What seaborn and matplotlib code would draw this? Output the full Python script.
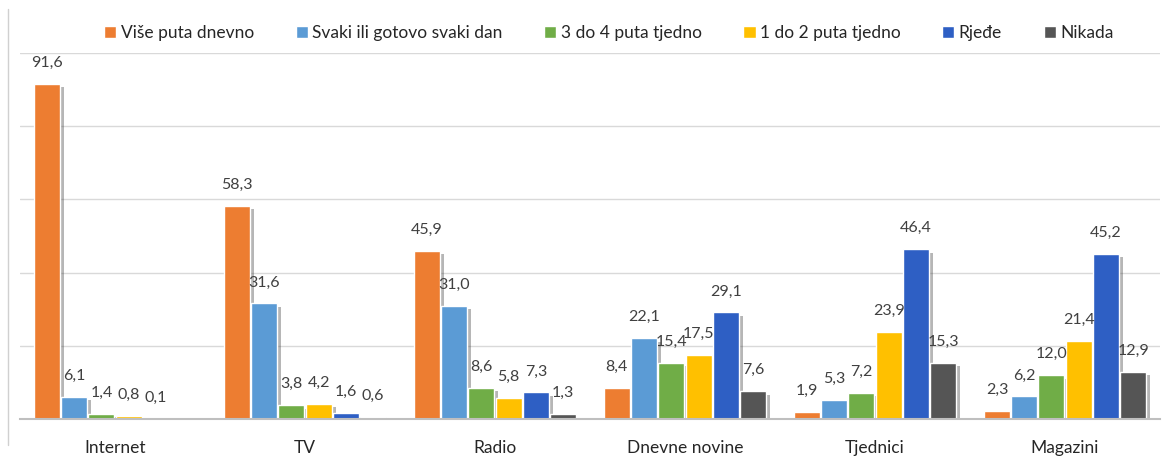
import numpy as np
import pandas as pd
import matplotlib.pyplot as plt
import matplotlib.patheffects as pe
import seaborn as sns

categories = ["Internet", "TV", "Radio", "Dnevne novine", "Tjednici", "Magazini"]
series = ["Više puta dnevno", "Svaki ili gotovo svaki dan", "3 do 4 puta tjedno",
          "1 do 2 puta tjedno", "Rjeđe", "Nikada"]

vise_puta = [91.6, 58.3, 45.9, 8.4, 1.9, 2.3]
svaki_dan = [6.1, 31.6, 31.0, 22.1, 5.3, 6.2]
tri_do_4 = [1.4, 3.8, 8.6, 15.4, 7.2, 12.0]
jedan_do_2 = [0.8, 4.2, 5.8, 17.5, 23.9, 21.4]
rjede = [0.1, 1.6, 7.3, 29.1, 46.4, 45.2]
nikada = [np.nan, 0.6, 1.3, 7.6, 15.3, 12.9]

colors = ["#ED7D31", "#5B9BD5", "#70AD47", "#FFC000", "#2E5FC4", "#555555"]

values = [vise_puta, svaki_dan, tri_do_4, jedan_do_2, rjede, nikada]
rows = []
for s, vals in zip(series, values):
    for c, v in zip(categories, vals):
        rows.append({"medij": c, "učestalost": s, "postotak": v})
df = pd.DataFrame(rows)

sns.set_style("white")
plt.rcParams['font.family'] = ['Lato', 'DejaVu Sans']

fig = plt.figure(figsize=(11.71, 4.59), dpi=100)
ax = fig.add_axes([20 / 1171, 40 / 459, 1140 / 1171, 366 / 459])

sns.barplot(data=df, x="medij", y="postotak", hue="učestalost",
            hue_order=series, order=categories, palette=colors,
            width=0.86, gap=0.05, saturation=1, ax=ax, legend=True)

shadow = [pe.SimplePatchShadow(offset=(3, -2.5), alpha=0.35, shadow_rgbFace="#303030"), pe.Normal()]
for cont in ax.containers:
    for bar in cont:
        bar.set_path_effects(shadow)
    labels = ["" if np.isnan(v) else f"{v:.1f}".replace(".", ",") for v in cont.datavalues]
    ax.bar_label(cont, labels=labels, padding=10, fontsize=11.5, color="#404040")

ax.set_ylim(0, 100)
ax.set_yticks([0, 20, 40, 60, 80, 100])
ax.set_yticklabels([])
ax.tick_params(axis="y", length=0)
ax.tick_params(axis="x", length=0, pad=15, labelsize=12.5, labelcolor="#262626")
ax.yaxis.grid(True, color="#D9D9D9", linewidth=1)
ax.set_axisbelow(True)
for side in ["top", "right", "left"]:
    ax.spines[side].set_visible(False)
ax.spines["bottom"].set_color("#BFBFBF")
ax.spines["bottom"].set_linewidth(1.5)
ax.set_xlabel("")
ax.set_ylabel("")

handles, labs = ax.get_legend_handles_labels()
ax.legend_.remove()
fig.legend(handles, labs, loc="center", bbox_to_anchor=(0.52, 0.928), ncol=6,
           frameon=False, fontsize=12.5, handlelength=0.7, handleheight=0.7,
           handletextpad=0.25, columnspacing=2.4, labelcolor="#262626")

fig.add_artist(plt.Line2D([8 / 1171, 8 / 1171], [0.03, 0.98], color="#D0D0D0", linewidth=1))

plt.savefig("out.png", dpi=100)
